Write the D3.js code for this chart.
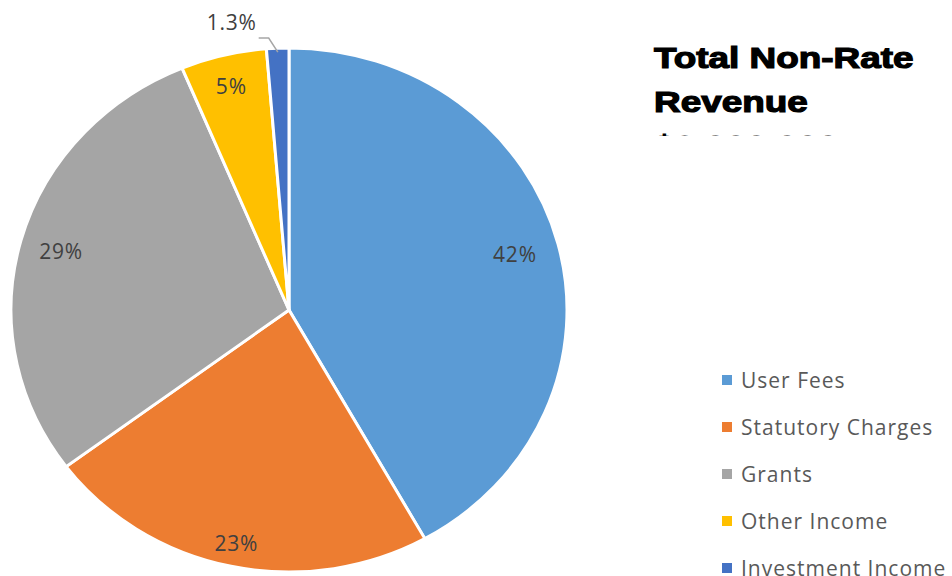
<!DOCTYPE html>
<html><head><meta charset="utf-8">
<script src="https://cdn.jsdelivr.net/npm/d3@7"></script>
<style>body{margin:0;background:#fff}svg{display:block}</style>
</head><body>
<svg id="c" width="952" height="576"></svg>
<script>
const categories = ["User Fees","Statutory Charges","Grants","Other Income","Investment Income"];
const values = [42, 23, 29, 5, 1.3];
const valueLabels = ["42%","23%","29%","5%","1.3%"];
const colors = ["#5B9BD5","#ED7D31","#A5A5A5","#FFC000","#4472C4"];
const titleLines = ["Total Non-Rate","Revenue","$2,000,000"];

const svg = d3.select("#c");
const cx = 289, cy = 310, rx = 278, ry = 262;
const data = categories.map((c,i)=>({name:c,value:values[i],label:valueLabels[i],color:colors[i]}));
const pie = d3.pie().sort(null).value(d=>d.value);
const arcs = pie(data);
const arc = d3.arc().innerRadius(0).outerRadius(rx);

const g = svg.append("g").attr("transform",`translate(${cx},${cy}) scale(1,${ry/rx})`);
g.selectAll("path").data(arcs).enter().append("path")
  .attr("d",arc).attr("fill",d=>d.data.color)
  .attr("stroke","#fff").attr("stroke-width",3).attr("stroke-linejoin","round");

// labels (positions from mid-angle on a label radius, in ellipse space)
const labelFrac = [0.84, 0.91, 0.85, 0.88, 1.0];
const fontLbl = "'Open Sans', sans-serif";
const lg = svg.append("g");
arcs.forEach((a,i)=>{
  const mid = (a.startAngle+a.endAngle)/2;
  const r = labelFrac[i];
  let x = cx + rx*r*Math.sin(mid);
  let y = cy - ry*r*Math.cos(mid);
  if(i===4){ x = x - 46; y = 22; }
  lg.append("text").attr("x",x).attr("y",y)
    .attr("text-anchor","middle").attr("dominant-baseline","central")
    .attr("font-family",fontLbl).attr("font-size",21).attr("letter-spacing",0.8)
    .attr("fill","#404040").text(a.data.label);
  if(i===4){
    const ex = cx + rx*0.985*Math.sin(mid), ey = cy - ry*0.985*Math.cos(mid);
    lg.append("polyline")
      .attr("points",`${x+27},${y+16} ${x+37},${y+16} ${ex},${ey}`)
      .attr("fill","none").attr("stroke","#A6A6A6").attr("stroke-width",1.5);
  }
});

// title (third line clipped as in the reference)
svg.append("clipPath").attr("id","tc").append("rect").attr("x",600).attr("y",0).attr("width",352).attr("height",136);
const tg = svg.append("g").attr("clip-path","url(#tc)");
titleLines.forEach((t,i)=>{
  tg.append("text").attr("transform",`translate(654,${68+i*44}) scale(1.23,1)`)
    .attr("font-family","'Liberation Sans', Arial, sans-serif").attr("font-weight","bold")
    .attr("font-size",30).attr("fill","#000").attr("stroke","#000").attr("stroke-width",1.2)
    .text(t);
});

// legend
const leg = svg.append("g");
data.forEach((d,i)=>{
  const y = 380 + i*47;
  leg.append("rect").attr("x",722).attr("y",y-5).attr("width",10).attr("height",10).attr("fill",d.color);
  leg.append("text").attr("x",741).attr("y",y).attr("dominant-baseline","central")
    .attr("font-family",fontLbl).attr("font-size",21).attr("letter-spacing",1)
    .attr("fill","#595959").text(d.name);
});
</script>
</body></html>
